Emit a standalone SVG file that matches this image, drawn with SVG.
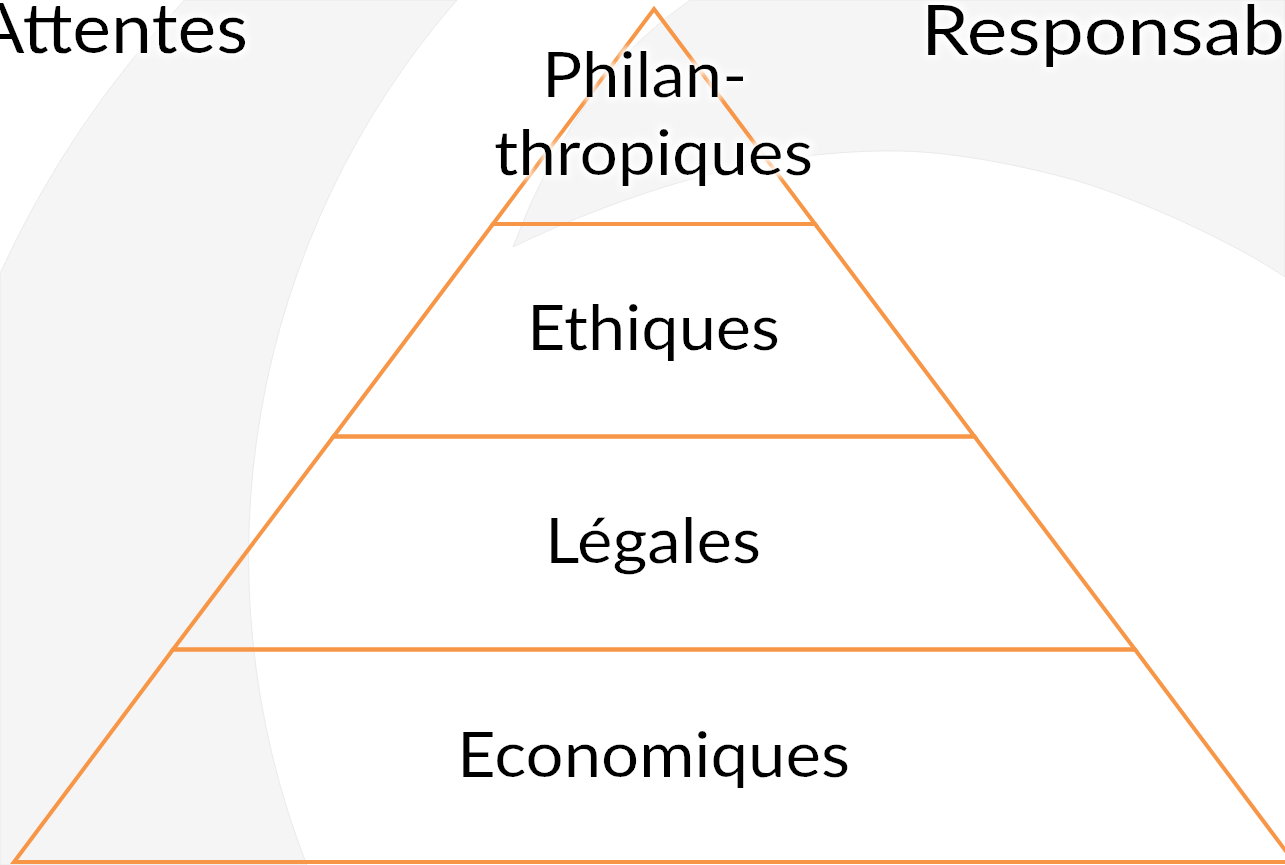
<svg xmlns="http://www.w3.org/2000/svg" width="1285" height="865" viewBox="0 0 1285 865">
  <style>
    .bg { fill: #f5f5f5; stroke: #e6e6e6; stroke-width: 0.8; }
    .tier { fill: none; stroke: #f79646; stroke-width: 4; stroke-linejoin: miter; }
    .lbl { font-family: Lato, "Open Sans", "Liberation Sans", sans-serif; font-size: 62px; fill: #000; text-anchor: middle; }
    .big { font-family: Lato, "Open Sans", "Liberation Sans", sans-serif; font-size: 69px; fill: #000; }
  </style>
  <defs>
    <filter id="glow" x="-15%" y="-40%" width="130%" height="180%">
      <feMorphology in="SourceAlpha" operator="dilate" radius="3" result="d"/>
      <feGaussianBlur in="d" stdDeviation="3" result="b"/>
      <feFlood flood-color="#ffffff"/>
      <feComposite in2="b" operator="in" result="g"/>
      <feMerge><feMergeNode in="g"/><feMergeNode in="SourceGraphic"/></feMerge>
    </filter>
  </defs>
  <rect width="1285" height="865" fill="#ffffff"/>

  <g id="connectors">
    <g id="arrow-attentes">
      <path class="bg" d="M184.4,0 L457,0 A847,847 0 0 0 306.8,865 L0,865 L0,273.5 A1003.5,1003.5 0 0 1 184.4,0 Z"/>
      <text class="big" x="-25" y="53" textLength="273" lengthAdjust="spacingAndGlyphs" filter="url(#glow)">Attentes</text>
    </g>
    <g id="arrow-responsabilites">
      <path class="bg" d="M690,0 L1285,0 L1285,277 C1230,240 1130,195 1067,178 C1010,163 950,152 900,151 C850,150 790,156 740,167 C680,180 600,205 513,247 Q545,160 600,83 Q640,35 690,0 Z"/>
      <text class="big" x="921" y="55" textLength="364" lengthAdjust="spacingAndGlyphs" filter="url(#glow)">Responsab</text>
    </g>
  </g>

  <g id="tier-economiques">
    <polygon class="tier" points="173,649.5 1135,649.5 1294,862 14,862"/>
    <text class="lbl" x="653.5" y="777" textLength="393" lengthAdjust="spacingAndGlyphs" filter="url(#glow)">Economiques</text>
  </g>
  <g id="tier-legales">
    <polygon class="tier" points="333.5,436.5 974.5,436.5 1135,649.5 173,649.5"/>
    <text class="lbl" x="653" y="563" textLength="216" lengthAdjust="spacingAndGlyphs" filter="url(#glow)">Légales</text>
  </g>
  <g id="tier-ethiques">
    <polygon class="tier" points="493,224 815,224 974.5,436.5 333.5,436.5"/>
    <text class="lbl" x="653.5" y="350" textLength="253" lengthAdjust="spacingAndGlyphs" filter="url(#glow)">Ethiques</text>
  </g>
  <g id="tier-philanthropiques">
    <polygon class="tier" points="654,9 815,224 493,224"/>
    <text class="lbl" filter="url(#glow)">
      <tspan x="652.5" y="97" textLength="205" lengthAdjust="spacingAndGlyphs">Philan-</tspan>
      <tspan x="653.5" y="175" textLength="319" lengthAdjust="spacingAndGlyphs">thropiques</tspan>
    </text>
  </g>
</svg>
